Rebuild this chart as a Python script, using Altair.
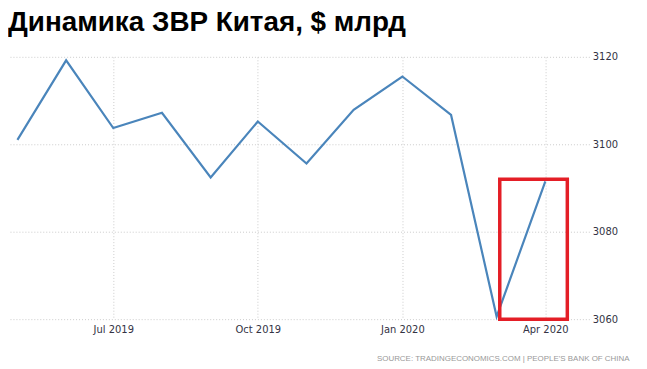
import altair as alt
import pandas as pd

# Data
months = ["2019-05-01", "2019-06-01", "2019-07-01", "2019-08-01", "2019-09-01",
          "2019-10-01", "2019-11-01", "2019-12-01", "2020-01-01", "2020-02-01",
          "2020-03-01", "2020-04-01"]
reserves = [3101.0, 3119.2, 3103.7, 3107.2, 3092.4, 3105.2, 3095.6, 3107.9,
            3115.5, 3106.7, 3060.6, 3091.5]

# Highlight box (data units)
box_start = ["2020-03-03"]
box_end = ["2020-04-15"]
box_low = [3060]
box_high = [3092]

y_ticks = [3060, 3080, 3100, 3120]
x_ticks = [(2019, 7), (2019, 10), (2020, 1), (2020, 4)]

df = pd.DataFrame({"date": months, "value": reserves})
box_df = pd.DataFrame({"x": box_start, "x2": box_end, "y": box_low, "y2": box_high})

x_scale = alt.Scale(
    type="utc",
    domain=[alt.DateTime(year=2019, month=4, date=25, utc=True),
            alt.DateTime(year=2020, month=4, date=29, utc=True)],
)
y_scale = alt.Scale(domain=[3060, 3120], nice=False, zero=False)

x_axis = alt.Axis(
    values=[alt.DateTime(year=y, month=m, date=1, utc=True) for y, m in x_ticks],
    labelExpr="utcFormat(datum.value, '%b %Y')",
    grid=True,
    gridDash=[1, 2],
    gridColor="#cccccc",
    domain=False,
    ticks=False,
    labelPadding=5,
    labelFont="DejaVu Sans",
    labelFontSize=10,
    labelColor="#333344",
    title="SOURCE: TRADINGECONOMICS.COM  |  PEOPLE'S BANK OF CHINA",
    titleFont="Liberation Sans",
    titleFontSize=8,
    titleFontWeight="normal",
    titleColor="#999999",
    titleAnchor="end",
    titleAlign="right",
    titleX=625,
    titleY=40,
    titleBaseline="middle",
)

y_axis = alt.Axis(
    orient="right",
    values=y_ticks,
    format="d",
    grid=True,
    gridDash=[1, 2],
    gridColor="#cccccc",
    domain=False,
    ticks=False,
    labelPadding=3,
    labelFont="DejaVu Sans",
    labelFontSize=10,
    labelColor="#333344",
    title=None,
)

line = alt.Chart(df).mark_line(color="#4a85bb", strokeWidth=2.2).encode(
    x=alt.X("date:T", scale=x_scale, axis=x_axis),
    y=alt.Y("value:Q", scale=y_scale, axis=y_axis),
)

box = alt.Chart(box_df).mark_rect(
    fill="transparent", stroke="#e41e26", strokeWidth=3.5
).encode(
    x=alt.X("x:T", scale=x_scale),
    x2="x2:T",
    y=alt.Y("y:Q", scale=y_scale),
    y2="y2:Q",
)

chart = alt.layer(line, box).properties(
    width=585,
    height=264,
    padding={"left": 0, "top": 0, "right": 10, "bottom": 0},
    title=alt.TitleParams(
        "Динамика ЗВР Китая, $ млрд",
        anchor="start",
        font="Liberation Sans",
        fontSize=28,
        fontWeight="bold",
        color="#000000",
        offset=15,
    ),
).configure_view(stroke=None)

chart.save("out.html", embed_options={"renderer": "svg", "actions": False})
